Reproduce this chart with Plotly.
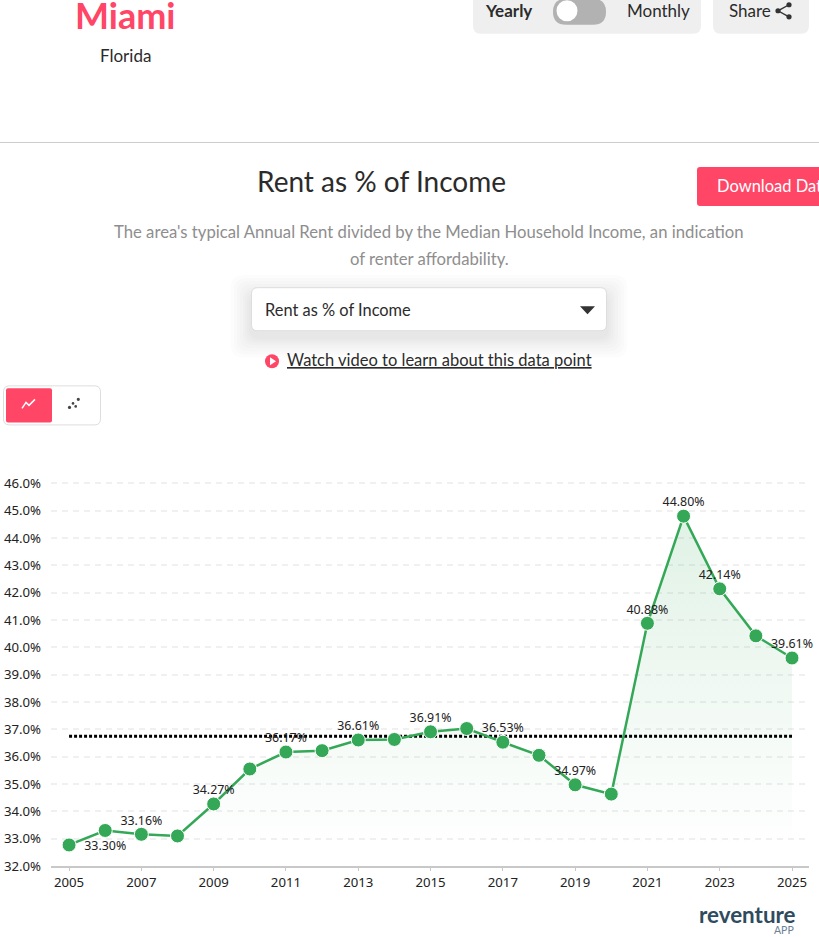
import plotly.graph_objects as go

years = list(range(2005, 2026))
rent_pct = [32.77, 33.30, 33.16, 33.10, 34.27, 35.55, 36.17, 36.22, 36.61, 36.63, 36.91,
            37.03, 36.53, 36.05, 34.97, 34.63, 40.88, 44.80, 42.14, 40.42, 39.61]
labeled_years = [2006, 2007, 2009, 2011, 2013, 2015, 2017, 2019, 2021, 2022, 2023, 2025]
below_years = [2006]
avg_years = [2005, 2025]
avg_pct = [36.75, 36.75]
y_ticks = list(range(32, 47))
x_ticks = list(range(2005, 2026, 2))

GREEN = "#34A857"
PINK = "#FF4667"
W, H = 819, 937
# plot area in page pixels, top is a hair above the 46% line so its gridline draws
L, R, T, B = 51, 809, 482.3, 865.7


def fx(x):
    return (x - L) / (R - L)


def fy(y):
    return (B - y + 0.2) / (B - T)


def rrect(x0, y0, x1, y1, r, fill, line=None, layer="below", opacity=1):
    # rounded box, page pixels
    pts = [
        f"M {fx(x0 + r)} {fy(y0)}", f"L {fx(x1 - r)} {fy(y0)}", f"Q {fx(x1)} {fy(y0)} {fx(x1)} {fy(y0 + r)}",
        f"L {fx(x1)} {fy(y1 - r)}", f"Q {fx(x1)} {fy(y1)} {fx(x1 - r)} {fy(y1)}",
        f"L {fx(x0 + r)} {fy(y1)}", f"Q {fx(x0)} {fy(y1)} {fx(x0)} {fy(y1 - r)}",
        f"L {fx(x0)} {fy(y0 + r)}", f"Q {fx(x0)} {fy(y0)} {fx(x0 + r)} {fy(y0)} Z",
    ]
    return dict(type="path", xref="paper", yref="paper", path=" ".join(pts), fillcolor=fill, opacity=opacity,
                line=dict(color=line or "rgba(0,0,0,0)", width=1), layer=layer)


def circle(cx, cy, r, fill, layer="below"):
    return dict(type="circle", xref="paper", yref="paper", x0=fx(cx - r), x1=fx(cx + r), y0=fy(cy + r), y1=fy(cy - r),
                fillcolor=fill, line=dict(width=0), layer=layer)


def poly(points, fill=None, color=None, width=0, layer="below"):
    path = "M " + " L ".join(f"{fx(x)} {fy(y)}" for x, y in points)
    if fill:
        path += " Z"
    return dict(type="path", xref="paper", yref="paper", path=path, fillcolor=fill or "rgba(0,0,0,0)",
                line=dict(color=color or "rgba(0,0,0,0)", width=width), layer=layer)


def label(text, x, y, size, color="#2b2b2b", anchor="center", family="Lato"):
    return dict(text=text, xref="paper", yref="paper", x=fx(x), y=fy(y), showarrow=False, xanchor=anchor,
                yanchor="middle", font=dict(family=family, size=size, color=color))


shapes = [
    rrect(473, -12, 701, 35, 8, "#EFEFEF"),
    rrect(713, -12, 809, 35, 8, "#EFEFEF"),
    rrect(553, 0, 606, 26, 13, "#B2B2B2"),
    circle(567, 12, 10.5, "#FFFFFF"),
    poly([(789, 6), (778, 12), (789, 18)], color="#333333", width=1.4),
    circle(789, 6, 2.6, "#333333"), circle(778, 12, 2.6, "#333333"), circle(789, 18, 2.6, "#333333"),
    dict(type="line", xref="paper", yref="paper", x0=fx(0), x1=fx(W), y0=fy(143.5), y1=fy(143.5),
         line=dict(color="#CCCCCC", width=1), layer="below"),
    rrect(697, 168, 830, 207, 3, PINK),
]
# dropdown shadow, soft and pushed down
for grow in [20, 17, 14, 11, 8, 6, 4, 2]:
    shapes.append(rrect(251 - grow, 288 - grow + 8, 607 + grow, 332 + grow + 6, 12, "rgba(70,50,90,0.014)"))
shapes += [
    rrect(251.5, 288.5, 606.5, 331.5, 6, "#FFFFFF", line="#DDDDDD"),
    poly([(580, 307), (595, 307), (587.5, 315)], fill="#333333"),
    circle(272, 362, 7, PINK),
    poly([(270, 358), (270, 366), (276, 362)], fill="#FFFFFF"),
    rrect(3.5, 386.5, 100.5, 425.5, 6, "#FFFFFF", line="#DDDDDD"),
    rrect(6, 389, 52, 423, 2, PINK),
    poly([(22, 409), (26, 403), (29, 406), (35, 400)], color="#FFFFFF", width=1.5),
    circle(69.5, 408, 1.6, "#444444"), circle(78.3, 400, 1.6, "#444444"),
    circle(73, 404, 1.3, "#444444"), circle(75.7, 407, 1.3, "#444444"),
]

annotations = [
    label("<b>Miami</b>", 125, 16.5, 36, PINK),
    label("Florida", 125, 57, 17),
    label("<b>Yearly</b>", 508, 12, 17),
    label("Monthly", 658.5, 12, 17),
    label("Share", 750, 12, 17),
    label("Rent as % of Income", 381, 182, 28),
    label("Download Data", 714.5, 187, 16.5, "#FFFFFF", anchor="left"),
    label("The area's typical Annual Rent divided by the Median Household Income, an indication", 429, 232.5, 16.7, "#8E8E8E"),
    label("of renter affordability.", 429, 259.5, 16.7, "#8E8E8E"),
    label("Rent as % of Income", 262.5, 310, 16.4, anchor="left"),
    label("<u>Watch video to learn about this data point</u>", 285, 361, 16.5, anchor="left"),
    label("<b>reventure</b>", 747, 914, 22.4, "#2F4B5E"),
    label("APP", 784, 930, 10.5, "#6B8294"),
]

point_text = [f"{v:.2f}%" if yr in labeled_years else "" for yr, v in zip(years, rent_pct)]
point_pos = ["bottom center" if yr in below_years else "top center" for yr in years]
# invisible markers only set how far each label sits from its point
label_gap = [14 if yr in below_years else 9 for yr in years]

fig = go.Figure()
fig.add_trace(go.Scatter(
    x=years, y=rent_pct, mode="none", fill="tozeroy", hoverinfo="skip",
    fillgradient=dict(type="vertical", start=44.8, stop=32.5,
                      colorscale=[[0, "rgba(52,168,87,0.15)"], [1, "rgba(52,168,87,0)"]]),
))
fig.add_trace(go.Scatter(
    x=avg_years, y=avg_pct, mode="lines", line=dict(color="#000000", width=3, dash="3px,2px"),
))
fig.add_trace(go.Scatter(
    x=years, y=rent_pct, mode="lines+markers",
    line=dict(color=GREEN, width=2.5),
    marker=dict(size=14, color=GREEN, line=dict(color="#FFFFFF", width=1)),
))
fig.add_trace(go.Scatter(
    x=years, y=rent_pct, mode="markers+text", text=point_text, textposition=point_pos,
    textfont=dict(family="Noto Sans", size=12.4, color="#222222"), cliponaxis=False, hoverinfo="skip",
    marker=dict(size=label_gap, opacity=0),
))

fig.update_layout(
    width=W, height=H, showlegend=False, plot_bgcolor="#FFFFFF", paper_bgcolor="#FFFFFF",
    margin=dict(l=L, r=W - R, t=T, b=H - B, pad=0, autoexpand=False),
    font=dict(family="Noto Sans", size=13.2, color="#222222"),
    shapes=shapes, annotations=annotations,
)
fig.update_xaxes(range=[2004.5, 2025.47], tickmode="array", tickvals=x_ticks, showgrid=False, zeroline=False,
                 showline=True, linecolor="#C8C8C8", linewidth=1.5, ticks="outside", ticklen=3, tickcolor="#C8C8C8",
                 tickfont=dict(size=13.2), automargin=False)
fig.update_yaxes(range=[32, 46.05], tickmode="array", tickvals=y_ticks, ticktext=[f"{t}.0%" for t in y_ticks],
                 gridcolor="#F0F0F0", griddash="6px,5px", gridwidth=1.5, zeroline=False, showline=False,
                 ticks="", ticklabelstandoff=9, tickfont=dict(size=13.2), automargin=False)

fig.write_html("out.html", config=dict(displayModeBar=False),
               post_script="document.body.style.margin='0';document.body.style.overflow='hidden';")
